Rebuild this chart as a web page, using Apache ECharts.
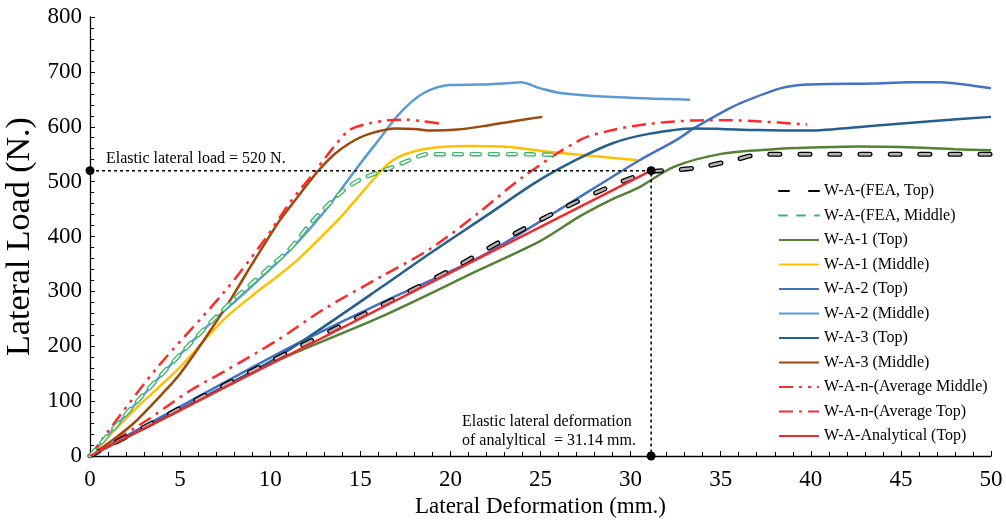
<!DOCTYPE html>
<html><head><meta charset="utf-8">
<script src="https://cdn.jsdelivr.net/npm/echarts@6/dist/echarts.min.js"></script>
<style>html,body{margin:0;padding:0;background:#fff}#c{width:1006px;height:522px}</style>
</head><body><div id="c"></div>
<script>
const seriesNames = ['W-A-(FEA, Top)','W-A-(FEA, Middle)','W-A-1 (Top)','W-A-1 (Middle)','W-A-2 (Top)','W-A-2 (Middle)','W-A-3 (Top)','W-A-3 (Middle)','W-A-n-(Average Middle)','W-A-n-(Average Top)','W-A-Analytical (Top)'];
const feaTop = [[0,0],[5,87],[10,172],[15,255],[17,288],[20,339],[23,395],[26,447],[29,493],[31.14,518],[32.5,521],[34,527],[35.7,539],[37.3,550],[40,550],[45,550],[50,550]];
const feaMid = [[0,0],[2.5,95],[5,185],[7.5,270],[10,345],[11.1,378],[12.4,430],[14,482],[15,504],[16.6,524],[17.8,540],[18.7,550],[21,550],[23.5,550],[25.8,549]];
const wa1Top = [[0,0],[5,83],[10,168],[16.1,253],[21.6,339],[25,392],[27.2,437],[29,468],[30.5,490],[32.4,527],[35.1,551],[37.9,559],[40,562],[42.6,564],[45,563],[48,559],[50,557]];
const wa1Mid = [[0,0],[2.5,85],[5,162],[7.4,248],[9,292],[10.5,330],[11.5,357],[13.9,435],[15.7,503],[16.8,539],[18.5,559],[21,565],[23.3,563],[25,556],[27.5,548],[30.4,539]];
const wa2Top = [[0,0],[5,90],[11.1,198],[16.1,278],[21.6,362],[25.9,446],[28.7,503],[30.5,539],[32.6,577],[33.5,597],[35,625],[36.1,643],[38.3,670],[39.8,677],[43.5,679],[45.5,681],[47.2,681],[48.5,677],[50,670]];
const wa2Mid = [[0,0],[3.7,138],[6.3,230],[8.5,295],[11.1,375],[13,445],[14.7,520],[16,575],[17.2,625],[18.5,661],[20,676],[21.6,677],[23,679],[23.9,681],[25,670],[26.2,661],[29,654],[33.3,649]];
const wa3Top = [[0,0],[5,85],[10,172],[12.5,225],[16.1,306],[18.9,370],[22,438],[24.8,500],[27,540],[29,570],[31,587],[33.5,597],[35,596],[37,594],[39.8,593],[43.5,602],[47,611],[50,618]];
const wa3Mid = [[0,0],[1.3,30],[2.5,62],[4.2,120],[5,150],[6.4,215],[7.8,285],[9,350],[10.5,428],[11.1,454],[12.6,517],[13.5,548],[14.4,570],[15.5,587],[17,597],[18,596],[19,593],[20.4,595],[22,602],[23.5,610],[25.1,618]];
const avgMid = [[0,0],[1.3,58],[3.7,160],[7.4,297],[9.6,390],[11.1,462],[12.4,515],[13.5,562],[14.4,594],[15.5,606],[16.6,612],[17.5,613],[18.5,610],[19.6,605]];
const avgTop = [[0,0],[3.2,66],[5.5,118],[7.5,155],[10.4,211],[13,268],[16.1,326],[18.9,378],[21.6,444],[24,508],[27.2,576],[29,594],[31.2,606],[34.2,612],[35,612],[37,610],[39.8,604]];
const analytical = [[0,0],[31.14,520]];
const elasticGuide = [[0,520],[31.14,520],[31.14,0]];
const xTickLabels = [0,5,10,15,20,25,30,35,40,45,50];
const yTickLabels = [0,100,200,300,400,500,600,700,800];

const FF = "'Liberation Serif','Times New Roman',serif";
function line(name, data, color, width, type, extra) {
  return Object.assign({
    name: name, type: 'line', data: data, showSymbol: false, symbol: 'none',
    smooth: 0.3, lineStyle: { color: color, width: width, type: type || 'solid' },
    itemStyle: { color: color }, z: 2
  }, extra || {});
}
const series = [
  line(seriesNames[2], wa1Top, '#548235', 2.5),
  line(seriesNames[3], wa1Mid, '#FFC000', 2.5),
  line(seriesNames[4], wa2Top, '#4472C4', 2.5),
  line(seriesNames[5], wa2Mid, '#5B9BD5', 2.5),
  line(seriesNames[6], wa3Top, '#255E91', 2.5),
  line(seriesNames[7], wa3Mid, '#9E480E', 2.5),
  line(seriesNames[8], avgMid, '#FF2A2A', 2.5, [14,6,3,6,3,6]),
  line(seriesNames[9], avgTop, '#FF2A2A', 2.5, [14,6,3,6]),
  line(seriesNames[0], feaTop, '#000000', 5, [10,20], {lineStyle:{color:'#000',width:5,type:[10,20],cap:'round'}, z:3}),
  line(seriesNames[0], feaTop, '#B4B4B4', 2.4, [10,20], {lineStyle:{color:'#B4B4B4',width:2.4,type:[10,20],cap:'round'}, z:3}),
  line(seriesNames[1], feaMid, '#3DB86A', 4.5, [8,10], {lineStyle:{color:'#3DB86A',width:4.5,type:[8,10],cap:'round'}, z:3}),
  line(seriesNames[1], feaMid, '#FFFFFF', 1.8, [8,10], {lineStyle:{color:'#FFFFFF',width:1.8,type:[8,10],cap:'round'}, z:3}),
  line(seriesNames[10], analytical, '#F0282D', 2.5, 'solid', {smooth:false, z:4}),
  {
    name: 'guide', type: 'line', data: elasticGuide, smooth: false, z: 5,
    symbol: 'circle', symbolSize: 9, showSymbol: true,
    lineStyle: { color: '#000', width: 1.5, type: [3,3] }, itemStyle: { color: '#000' }
  }
];

const option = {
  animation: false,
  backgroundColor: '#fff',
  grid: { left: 90, right: 15, top: 17, bottom: 66, containLabel: false, outerBoundsMode: 'none' },
  xAxis: {
    type: 'value', min: 0, max: 50, interval: 5,
    name: 'Lateral Deformation (mm.)', nameLocation: 'middle', nameGap: 38,
    nameTextStyle: { fontFamily: FF, fontSize: 23, color: '#000' },
    axisLine: { lineStyle: { color: '#000', width: 1.3 } },
    axisTick: { inside: true, length: 5, lineStyle: { color: '#000' } },
    minorTick: { show: true, splitNumber: 5, length: 4, lineStyle: { color: '#000' } },
    axisLabel: { fontFamily: FF, fontSize: 23, color: '#000', margin: 12,
      formatter: v => xTickLabels.indexOf(v) >= 0 ? String(v) : '' },
    splitLine: { show: false }
  },
  yAxis: {
    type: 'value', min: 0, max: 800, interval: 100,
    name: 'Lateral Load (N.)', nameLocation: 'middle', nameGap: 51, nameRotate: 90,
    nameTextStyle: { fontFamily: FF, fontSize: 34, color: '#000' },
    axisLine: { show: true, lineStyle: { color: '#000', width: 1.3 } },
    axisTick: { show: true, inside: true, length: 5, lineStyle: { color: '#000' } },
    minorTick: { show: true, splitNumber: 5, length: 4, lineStyle: { color: '#000' } },
    axisLabel: { fontFamily: FF, fontSize: 23, color: '#000', margin: 8,
      formatter: v => yTickLabels.indexOf(v) >= 0 ? String(v) : '' },
    splitLine: { show: false }
  },
  legend: {
    data: seriesNames, orient: 'vertical', left: 778, top: 183, padding: 0,
    itemWidth: 40, itemHeight: 14, itemGap: 8.5,
    itemStyle: { opacity: 0 },
    textStyle: { fontFamily: FF, fontSize: 16, color: '#000' }
  },
  graphic: [
    { type: 'text', left: 106, top: 151, style: { text: 'Elastic lateral load = 520 N.', font: '16px ' + FF, fill: '#000' } },
    { type: 'text', left: 462, top: 412, style: { text: 'Elastic lateral deformation\nof analyltical  = 31.14 mm.', font: '16px ' + FF, fill: '#000', lineHeight: 19 } }
  ],
  series: series
};
echarts.init(document.getElementById('c')).setOption(option);
</script></body></html>
